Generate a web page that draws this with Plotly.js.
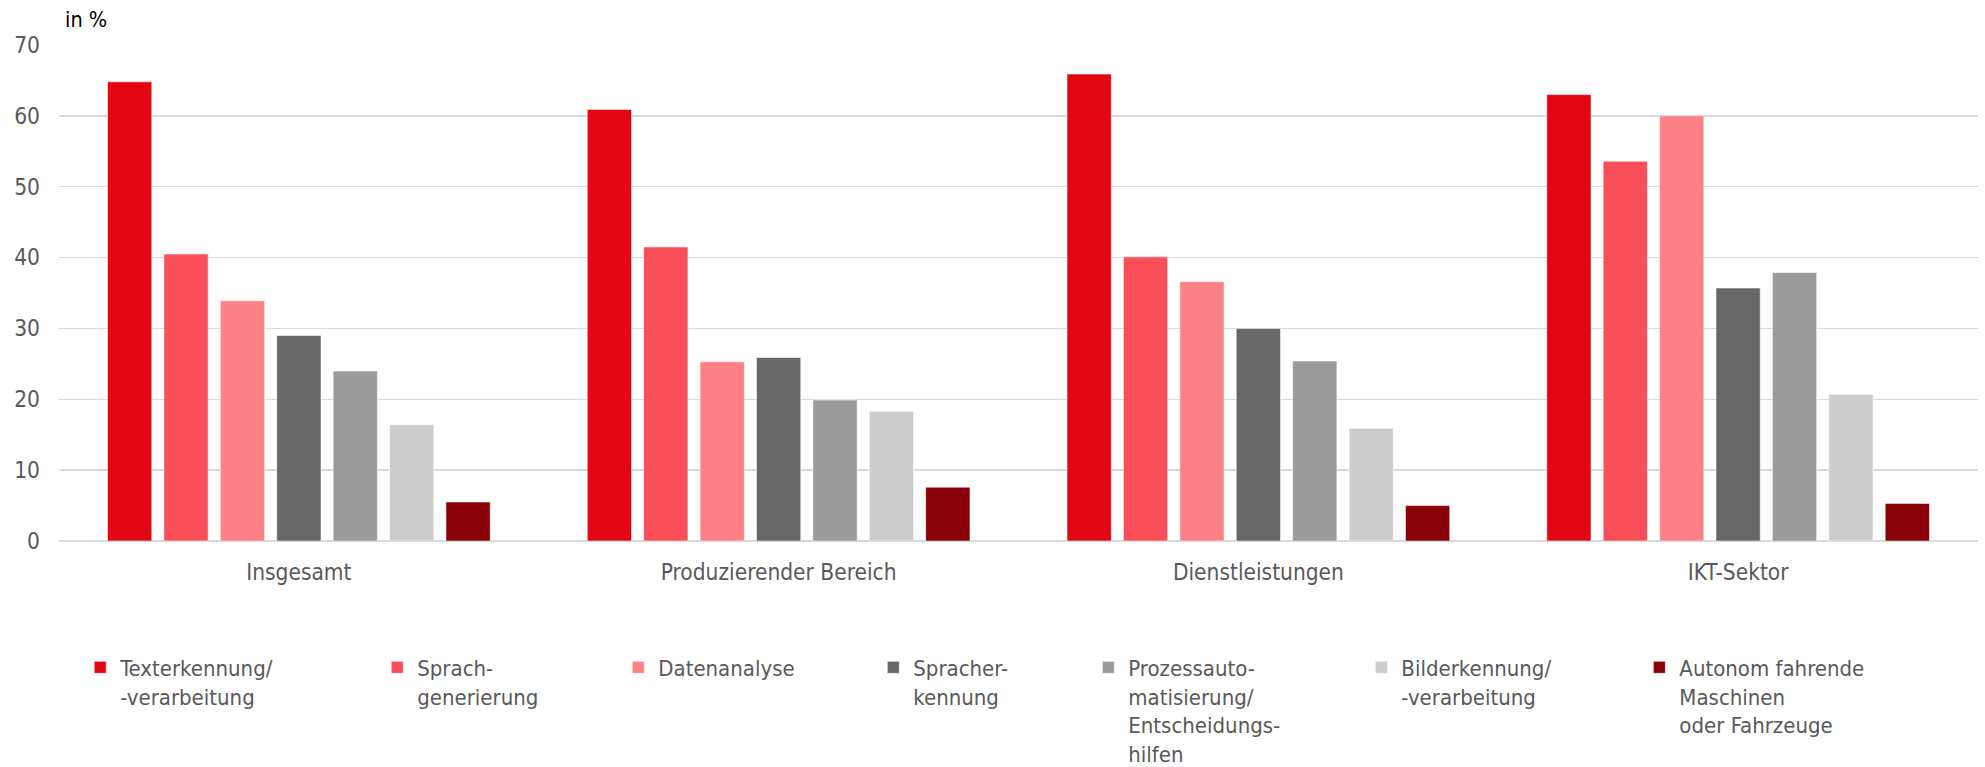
<!DOCTYPE html>
<html>
<head>
<meta charset="utf-8">
<script src="https://cdn.plot.ly/plotly-3.0.1.min.js"></script>
<style>html,body{margin:0;padding:0;background:#fff;}#chart{width:1985px;height:767px;}</style>
</head>
<body>
<div id="chart"></div>
<script>
// ---- data ----
const categories = ['Insgesamt', 'Produzierender Bereich', 'Dienstleistungen', 'IKT-Sektor'];
const seriesNames = [
  'Texterkennung/<br>-verarbeitung',
  'Sprach-<br>generierung',
  'Datenanalyse',
  'Spracher-<br>kennung',
  'Prozessauto-<br>matisierung/<br>Entscheidungs-<br>hilfen',
  'Bilderkennung/<br>-verarbeitung',
  'Autonom fahrende<br>Maschinen<br>oder Fahrzeuge'
];
const texterkennung          = [64.8, 60.9, 65.9, 63.0];
const sprachgenerierung      = [40.5, 41.5, 40.1, 53.6];
const datenanalyse           = [33.9, 25.3, 36.6, 60.0];
const spracherkennung        = [29.0, 25.9, 30.0, 35.7];
const prozessautomatisierung = [24.0, 19.9, 25.4, 37.9];
const bilderkennung          = [16.4, 18.3, 15.9, 20.7];
const autonom                = [5.5, 7.6, 5.0, 5.3];
const yTicks = [0, 10, 20, 30, 40, 50, 60, 70];

// ---- styles ----
const seriesValues = [texterkennung, sprachgenerierung, datenanalyse, spracherkennung, prozessautomatisierung, bilderkennung, autonom];
const colors = ['#E20613', '#FA4F59', '#FE8188', '#676767', '#9B9B9B', '#CDCDCD', '#8A0008'];
const FONT = 'DejaVu Sans Condensed, DejaVu Sans, sans-serif';
const TXT = '#595959';
const FS = 22.5;
const LFS = 22;

const L = 58.8, R = 7.4, T = 44.5, B = 225.7;
const W = 1985, H = 767;
const plotW = W - L - R;
const legendTextLeft = [120, 417, 658, 913, 1128, 1401, 1679];

const traces = seriesValues.map((vals, i) => ({
  type: 'bar',
  name: seriesNames[i],
  x: categories,
  y: vals,
  marker: {color: colors[i], line: {color: 'rgba(255,255,255,0.55)', width: 1}},
  legend: i === 0 ? 'legend' : 'legend' + (i + 1),
  hoverinfo: 'x+y+name'
}));

const layout = {
  width: W, height: H,
  margin: {l: L, r: R, t: T, b: B, pad: 0, autoexpand: false},
  paper_bgcolor: '#ffffff',
  plot_bgcolor: '#ffffff',
  font: {family: FONT, size: FS, color: TXT},
  barmode: 'group',
  bargap: 0.177,
  bargroupgap: 0.215,
  xaxis: {
    type: 'category', automargin: false,
    showgrid: false, showline: false, zeroline: false,
    ticks: '', ticklabelstandoff: 15,
    tickfont: {family: FONT, size: FS, color: TXT}
  },
  yaxis: {
    range: [0, 70], tickvals: yTicks, ticktext: yTicks.map(String), automargin: false,
    showgrid: true, gridcolor: '#D9D9D9', gridwidth: 1.5,
    zeroline: true, zerolinecolor: '#D9D9D9', zerolinewidth: 1.5,
    showline: false, ticks: '', ticklabelstandoff: 18,
    tickfont: {family: FONT, size: FS, color: TXT}
  },
  annotations: [{
    xref: 'paper', yref: 'paper',
    x: (63 - L) / plotW, y: 1 + (T - 33) / (H - T - B),
    xanchor: 'left', yanchor: 'bottom',
    text: 'in %', showarrow: false,
    font: {family: FONT, size: FS - 1, color: '#000000'}
  }],
  showlegend: true
};

const legendTopPx = 647;
legendTextLeft.forEach((tx, i) => {
  const key = i === 0 ? 'legend' : 'legend' + (i + 1);
  layout[key] = {
    x: (tx - 40 - L) / plotW,
    y: (H - B - legendTopPx) / (H - T - B),
    xanchor: 'left', yanchor: 'top',
    orientation: 'v', valign: 'top',
    bgcolor: 'rgba(0,0,0,0)', borderwidth: 0,
    font: {family: FONT, size: LFS, color: TXT},
    tracegroupgap: 0
  };
});

Plotly.newPlot('chart', traces, layout, {displayModeBar: false, staticPlot: true});
</script>
</body>
</html>
